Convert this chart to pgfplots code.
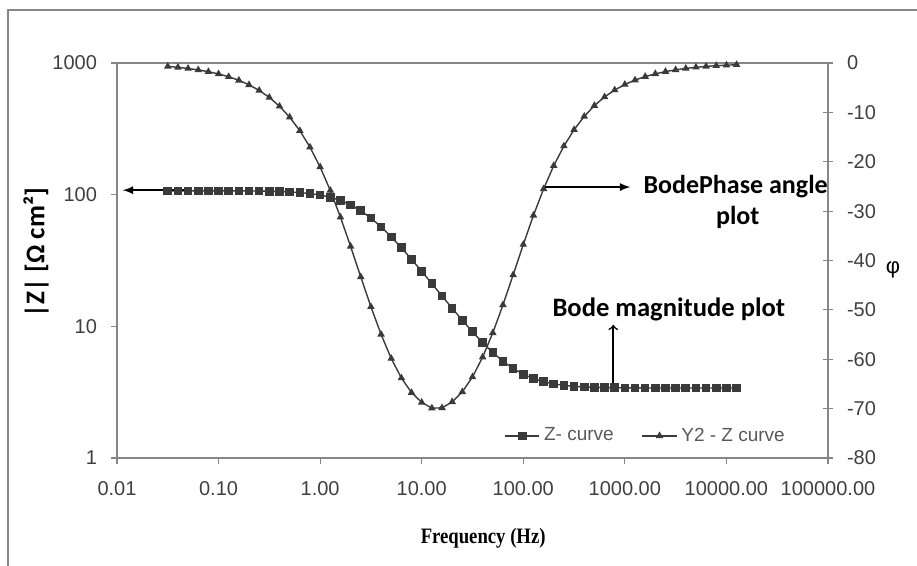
\documentclass[border=0pt]{standalone}
\usepackage{fontspec}
\setmainfont{Liberation Sans}
\newfontfamily\calib{Carlito}
\newfontfamily\timesf{Liberation Serif}
\usepackage{pgfplots}
\pgfplotsset{compat=1.18}
\usepackage{pgfplotstable}

\definecolor{lineg}{HTML}{3A3A3A}
\definecolor{axg}{HTML}{868686}
\definecolor{txtg}{HTML}{3F3F3F}
\definecolor{leggray}{HTML}{595959}

% f [Hz], |Z| [Ohm cm2], phase [deg]
\pgfplotstableread{
f z phi
0.03162 106.99 -0.70
0.03981 106.98 -0.88
0.05012 106.98 -1.11
0.06310 106.96 -1.40
0.07943 106.95 -1.76
0.1000 106.91 -2.22
0.1259 106.87 -2.79
0.1585 106.79 -3.51
0.1995 106.66 -4.42
0.2512 106.46 -5.56
0.3162 106.16 -6.98
0.3981 105.67 -8.76
0.5012 104.92 -10.97
0.6310 103.75 -13.71
0.7943 101.98 -17.05
1.000 99.35 -21.07
1.259 95.58 -25.81
1.585 90.38 -31.23
1.995 83.66 -37.14
2.512 75.51 -43.32
3.162 66.42 -49.37
3.981 56.98 -54.97
5.012 47.86 -59.85
6.310 39.55 -63.80
7.943 32.29 -66.76
10.00 26.16 -68.73
12.59 21.10 -69.90
15.85 17.00 -69.85
19.95 13.72 -68.63
25.12 11.12 -66.60
31.62 9.089 -63.59
39.81 7.516 -59.57
50.12 6.320 -54.65
63.10 5.430 -48.99
79.43 4.783 -42.93
100.0 4.325 -36.77
125.9 4.009 -30.87
158.5 3.796 -25.50
199.5 3.655 -20.80
251.2 3.563 -16.82
316.2 3.504 -13.52
398.1 3.466 -10.82
501.2 3.442 -8.63
631.0 3.426 -6.88
794.3 3.417 -5.48
1000 3.410 -4.36
1259 3.407 -3.46
1585 3.404 -2.75
1995 3.403 -2.19
2512 3.402 -1.74
3162 3.401 -1.38
3981 3.401 -1.10
5012 3.400 -0.87
6310 3.400 -0.69
7943 3.400 -0.55
10000 3.400 -0.44
12589 3.400 -0.35
}\bode

\pgfplotsset{
  zstyle/.style={lineg, line width=0.7pt, mark=square*, mark size=1.8pt,
    mark options={fill=lineg, draw=lineg}},
  phstyle/.style={lineg, line width=0.7pt, mark=triangle*, mark size=1.5pt,
    mark options={fill=lineg, draw=lineg}},
}

\begin{document}
\begin{tikzpicture}
\useasboundingbox (-58.5pt,-54pt) rectangle (400pt,229pt);
% picture frame
\draw[axg, line width=1.3pt] (-54.5pt,-80pt) rectangle (420pt,224pt);

\begin{axis}[
  scale only axis, width=355.5pt, height=197.5pt,
  xmode=log, ymode=log,
  xmin=0.01, xmax=100000, ymin=1, ymax=1000,
  xtick={0.01,0.1,1,10,100,1000,10000,100000},
  xticklabels={0.01,0.10,1.00,10.00,100.00,1000.00,10000.00,100000.00},
  ytick={1,10,100,1000},
  yticklabels={1,10,100,1000},
  xtick pos=left, ytick pos=left,
  tick align=outside, major tick length=3pt,
  minor tick style={draw=none},
  tick style={axg, line width=0.6pt},
  axis line style={axg, line width=1.1pt},
  ticklabel style={font=\fontsize{10}{12}\selectfont, txtg},
  xticklabel style={yshift=-5pt},
  yticklabel style={xshift=-3.5pt},
  clip=false,
]
\addplot[zstyle] table[x=f, y=z] {\bode};

% annotations
\draw[black, line width=0.8pt, -latex] (rel axis cs:0.10,0.678) -- (rel axis cs:0.008,0.678);
\draw[black, line width=0.8pt, -latex] (rel axis cs:0.602,0.686) -- (rel axis cs:0.722,0.686);
\draw[black, line width=0.8pt, ->] (rel axis cs:0.698,0.177) -- (rel axis cs:0.698,0.337);
\node[anchor=west, inner sep=0pt, font=\calib\bfseries\fontsize{13}{15}\selectfont]
  at (rel axis cs:0.740,0.686) {BodePhase angle};
\node[inner sep=0pt, font=\calib\bfseries\fontsize{13}{15}\selectfont]
  at (rel axis cs:0.873,0.608) {plot};
\node[anchor=west, inner sep=0pt, font=\calib\bfseries\fontsize{13.3}{15}\selectfont]
  at (rel axis cs:0.612,0.375) {Bode magnitude plot};

% axis titles
\node[rotate=90, font=\calib\bfseries\fontsize{13.5}{15}\selectfont]
  at ([xshift=-40.5pt]rel axis cs:0,0.52) {|Z| [Ω cm²]};
\node[font=\timesf\bfseries\fontsize{11}{13}\selectfont]
  at ([yshift=-40pt]rel axis cs:0.515,0) {\scalebox{0.85}[1]{Frequency (Hz)}};
\node[font=\fontsize{11}{13}\selectfont]
  at ([xshift=32.5pt]rel axis cs:1,0.476) {φ};
\end{axis}

\begin{axis}[
  scale only axis, width=355.5pt, height=197.5pt,
  xmode=log, xmin=0.01, xmax=100000,
  ymin=-80, ymax=0,
  ytick={-80,-70,-60,-50,-40,-30,-20,-10,0},
  yticklabels={-80,-70,-60,-50,-40,-30,-20,-10,0},
  hide x axis,
  axis y line*=right,
  ytick pos=right, yticklabel pos=right,
  tick align=center, major tick length=5pt,
  minor tick style={draw=none},
  tick style={axg, line width=0.6pt},
  axis line style={axg, line width=1.1pt},
  ticklabel style={font=\fontsize{10}{12}\selectfont, txtg},
  yticklabel style={xshift=3.5pt},
  legend style={at={(0.745,0.056)}, anchor=center, draw=none, fill=none,
    font=\fontsize{9.5}{11}\selectfont\color{leggray}},
  legend columns=2,
  legend cell align=left,
  /tikz/every even column/.append style={column sep=12pt},
]
\addlegendimage{zstyle}
\addlegendentry{Z- curve}
\addplot[phstyle] table[x=f, y=phi] {\bode};
\addlegendentry{Y2 - Z curve}
\end{axis}
\end{tikzpicture}
\end{document}
